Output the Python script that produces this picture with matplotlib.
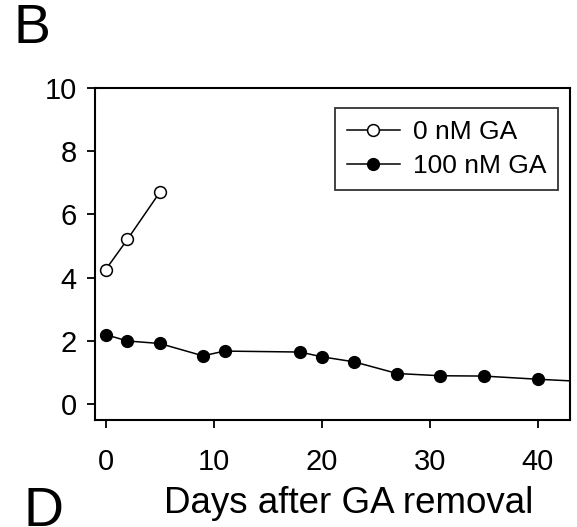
import matplotlib
matplotlib.use("Agg")
import matplotlib.pyplot as plt

plt.rcParams["font.family"] = ["Liberation Sans", "DejaVu Sans"]

# days after GA removal and measured values
days_0 = [0, 2, 5]
vals_0 = [4.26, 5.21, 6.7]
days_100 = [0, 2, 5, 9, 11, 18, 20, 23, 27, 31, 35, 40, 47]
vals_100 = [2.2, 2.0, 1.92, 1.53, 1.68, 1.65, 1.5, 1.34, 0.97, 0.9, 0.89, 0.79, 0.67]
xticks = [0, 10, 20, 30, 40]
yticks = [0, 2, 4, 6, 8, 10]

fig = plt.figure(figsize=(5.77, 5.27), dpi=100)
ax = fig.add_axes([0.1646, 0.203, 0.8233, 0.630])

ax.plot(days_0, vals_0, "-o", color="black", lw=1.1, ms=8.5,
        mfc="white", mec="black", mew=1.1, label="0 nM GA")
ax.plot(days_100, vals_100, "-o", color="black", lw=1.1, ms=8.5,
        mfc="black", mec="black", label="100 nM GA")

ax.set_xlim(-1, 43)
ax.set_ylim(-0.5, 10)
ax.set_xticks(xticks)
ax.set_yticks(yticks)
ax.tick_params(direction="out", length=6, width=1.3, labelsize=21)
ax.tick_params(axis="x", pad=14)
ax.tick_params(axis="y", pad=7)
for s in ax.spines.values():
    s.set_linewidth(1.5)

ax.set_xlabel("Days after GA removal", fontsize=26.5)
ax.xaxis.set_label_coords(0.535, -0.2)

leg = ax.legend(loc="upper right", bbox_to_anchor=(0.975, 0.94), fontsize=19,
                frameon=True, fancybox=False, edgecolor="black",
                handlelength=2.0, handletextpad=0.5, borderpad=0.45,
                labelspacing=0.38, borderaxespad=0)
leg.get_frame().set_linewidth(1.3)

fig.text(0.024, 0.995, "B", fontsize=40, va="top", ha="left")
fig.text(0.040, 0.078, "D", fontsize=40, va="top", ha="left")

fig.savefig("out.png", dpi=100)
